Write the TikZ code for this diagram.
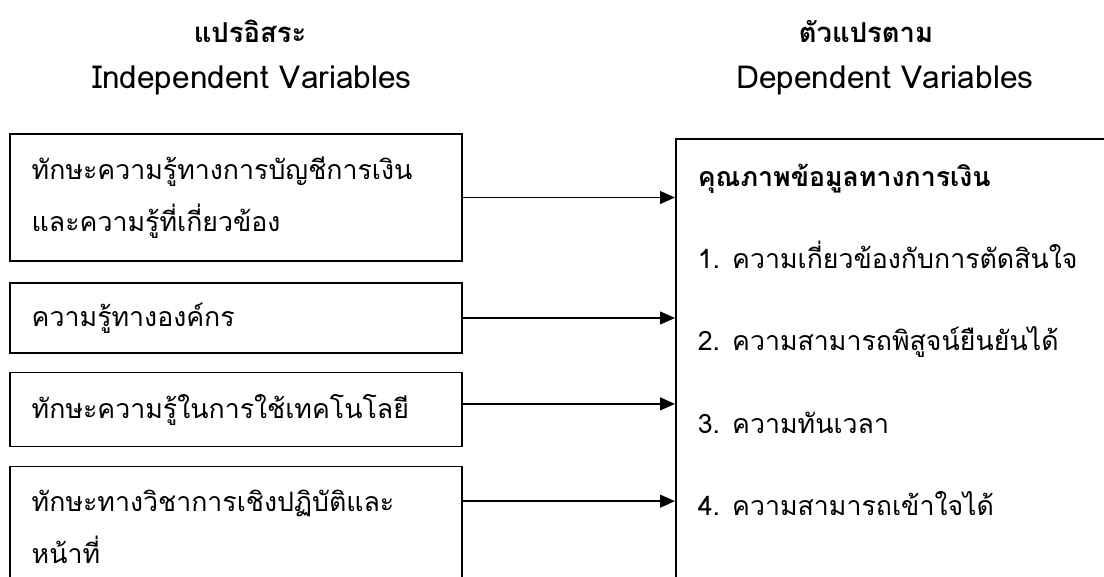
\documentclass[tikz,border=0pt]{standalone}
\usepackage{fontspec}
\setmainfont[Script=Thai]{Loma}
\usetikzlibrary{arrows.meta}

\begin{document}
\begin{tikzpicture}[x=0.025cm, y=-0.025cm, line width=1.2pt,
  ivbox/.style={draw, align=left, text width=10.21cm, inner xsep=0.55cm,
    font=\fontsize{19}{37}\selectfont},
  dvtext/.style={anchor=base west, inner sep=0pt, font=\fontsize{19}{23}\selectfont},
  head/.style={anchor=base, inner sep=0pt, font=\fontsize{22.5}{27}\selectfont},
  arr/.style={-{Triangle[length=10.5pt, width=9pt]}, line width=1.2pt}]
        \useasboundingbox (0, 0) rectangle (1104, 577);
        % headings
        \node[head, font=\fontsize{19.5}{23}\selectfont\bfseries] (ivhead) at (250, 43) {แปรอิสระ};
        \node[head] (ivsub) at (252, 89) {Independent Variables};
        \node[head, font=\fontsize{19.5}{23}\selectfont\bfseries] (dvhead) at (866, 43) {ตัวแปรตาม};
        \node[head] (dvsub) at (885, 89) {Dependent Variables};
        % independent variables
        \node[ivbox, minimum height=3.175cm] (iv1) at (236, 197.5)
                {ทักษะความรู้ทางการบัญชีการเงิน\\และความรู้ที่เกี่ยวข้อง};
        \node[ivbox, minimum height=1.74cm] (iv2) at (236, 318) {ความรู้ทางองค์กร};
        \node[ivbox, minimum height=1.85cm] (iv3) at (236, 409.5) {ทักษะความรู้ในการใช้เทคโนโลยี};
        \node[ivbox, minimum height=3.03cm] (iv4) at (236, 527)
                {ทักษะทางวิชาการเชิงปฏิบัติและ\\หน้าที่};
        % dependent variable
        \node[draw, anchor=north west, minimum width=12cm, minimum height=12cm] (dv) at (675, 138) {};
        \node[dvtext, font=\fontsize{19}{23}\selectfont\bfseries] (dvtitle) at (697, 187) {คุณภาพข้อมูลทางการเงิน};
        \node[dvtext] (dv1) at (697, 268) {1. ความเกี่ยวข้องกับการตัดสินใจ};
        \node[dvtext] (dv2) at (697, 350) {2. ความสามารถพิสูจน์ยืนยันได้};
        \node[dvtext] (dv3) at (697, 433) {3. ความทันเวลา};
        \node[dvtext] (dv4) at (697, 515) {4. ความสามารถเข้าใจได้};
        % arrows
        \draw[arr] (iv1.east) -- (iv1.east -| dv.west);
        \draw[arr] (iv2.east) -- (iv2.east -| dv.west);
        \draw[arr] ([yshift=0.14cm]iv3.east) -- ([yshift=0.14cm]iv3.east -| dv.west);
        \draw[arr] ([yshift=-0.89cm]iv4.north east) -- ([yshift=-0.89cm]iv4.north east -| dv.west);
\end{tikzpicture}
\end{document}
